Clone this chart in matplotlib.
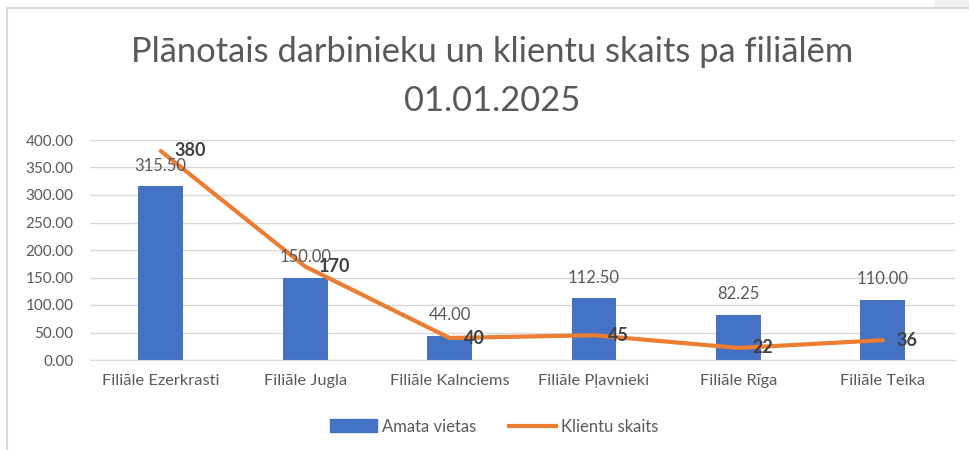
import matplotlib.pyplot as plt
from matplotlib.lines import Line2D
from matplotlib.patches import Patch, Rectangle

# chart data
branches = ['Filiāle Ezerkrasti', 'Filiāle Jugla', 'Filiāle Kalnciems',
            'Filiāle Pļavnieki', 'Filiāle Rīga', 'Filiāle Teika']
positions = [315.50, 150.00, 44.00, 112.50, 82.25, 110.00]
clients = [380, 170, 40, 45, 22, 36]
yticks = [0, 50, 100, 150, 200, 250, 300, 350, 400]

blue = '#4472c4'
orange = '#ed7d31'
gray = '#595959'

plt.rcParams['font.family'] = ['Lato', 'DejaVu Sans']

fig = plt.figure(figsize=(9.69, 4.5), dpi=100)
ax = fig.add_axes([90/969, 0.2, (955-90)/969, 220/450])

x = range(len(branches))
ax.bar(x, positions, width=0.31, color=blue, zorder=2)
ax.plot(x, clients, color=orange, lw=3, solid_joinstyle='round',
        solid_capstyle='round', zorder=3)

for i, v in enumerate(positions):
    ax.annotate(f'{v:.2f}', (i, v), xytext=(0, 9), textcoords='offset points',
                ha='center', va='bottom', fontsize=12, color=gray)
for i, v in enumerate(clients):
    ax.annotate(f'{v}', (i, v), xytext=(10, 0), textcoords='offset points',
                ha='left', va='center', fontsize=13, fontweight='bold',
                color='#404040', zorder=4)

ax.set_xlim(-0.49, 5.5)
ax.set_ylim(0, 400)
ax.set_yticks(yticks)
ax.set_yticklabels([f'{t:.2f}' for t in yticks])
ax.set_xticks(list(x))
ax.set_xticklabels(branches)
ax.tick_params(length=0, labelsize=11, labelcolor=gray)
ax.tick_params(axis='x', pad=10, labelsize=11.8)
ax.tick_params(axis='y', pad=12)
ax.grid(axis='y', color='#d9d9d9', lw=1, zorder=0)
for s in ['top', 'right', 'left']:
    ax.spines[s].set_visible(False)
ax.spines['bottom'].set_color('#d9d9d9')

fig.text(0.508, 0.83, 'Plānotais darbinieku un klientu skaits pa filiālēm\n01.01.2025',
         ha='center', va='center', fontsize=24.8, color=gray, linespacing=1.62)

handles = [Patch(color=blue, label='Amata vietas'),
           Line2D([0], [0], color=orange, lw=3, label='Klientu skaits')]
fig.legend(handles=handles, loc='center', bbox_to_anchor=(0.51, 0.052), ncol=2,
           frameon=False, fontsize=12, labelcolor=gray, handlelength=2.8,
           handleheight=0.8, columnspacing=2.0, handletextpad=0.3)

# outer chart border and corner box
fig.add_artist(Line2D([7/969, 7/969], [0, 1-8/450], color='#d9d9d9', lw=1.5,
                      transform=fig.transFigure))
fig.add_artist(Line2D([7/969, 1], [1-8/450, 1-8/450], color='#d9d9d9', lw=1.5,
                      transform=fig.transFigure))
fig.add_artist(Rectangle((935/969, 1-7/450), 34/969, 7/450, color='#f0f0f0',
                         transform=fig.transFigure))

fig.savefig('out.png', dpi=100)
